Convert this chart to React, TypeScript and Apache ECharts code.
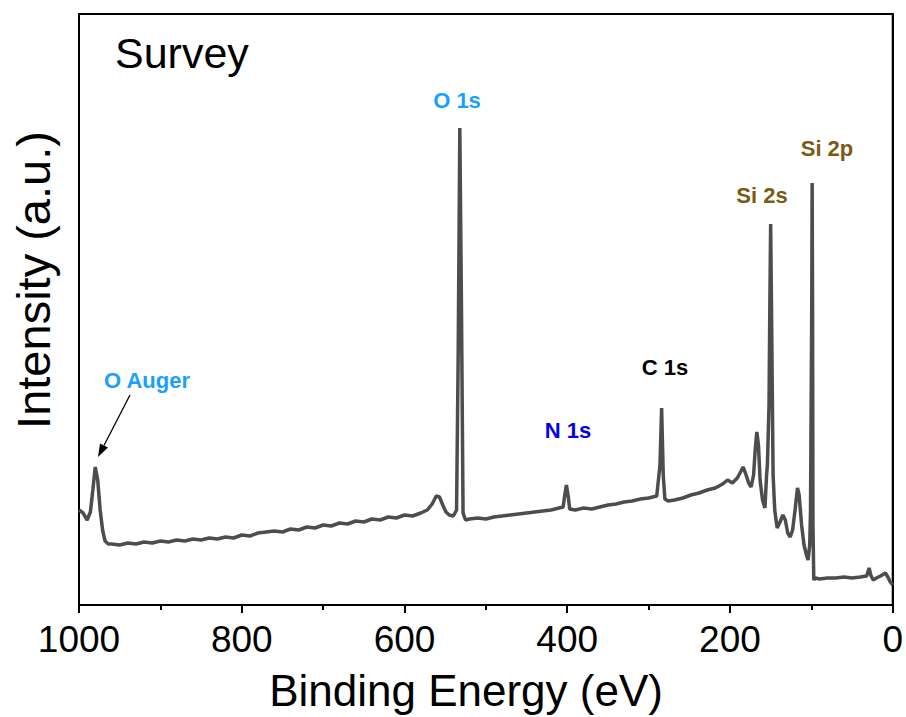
import React, { useEffect, useRef } from "react";
import * as echarts from "echarts";

// Binding energy (eV) and intensity (a.u.)
const energies: number[] = [
  1000, 995, 990, 986, 983, 980, 977, 974, 971, 968, 964, 960, 950, 940, 930, 920, 910, 900,
  890, 880, 870, 860, 850, 840, 830, 820, 810, 800, 790, 780, 770, 760, 750, 740, 730, 720,
  710, 700, 690, 680, 670, 660, 650, 640, 630, 620, 610, 600, 590, 580, 572, 566, 561, 557,
  553, 549, 545, 540, 536, 534, 532, 530, 528, 525, 520, 510, 500, 490, 480, 470, 460, 450,
  440, 430, 420, 410, 405, 403, 401, 399, 397, 390, 380, 370, 360, 350, 340, 330, 320, 310,
  300, 290, 286, 284, 282, 280, 276, 268, 258, 248, 238, 228, 218, 209, 203, 197, 191, 187,
  184, 181, 177, 174, 171, 169, 167, 165, 163, 160, 157, 155, 154, 152, 151, 150, 149, 147,
  145, 142, 139, 135, 132, 129, 126, 123, 120, 117, 115, 112, 109, 106, 104, 102, 101, 99.5,
  99, 98.5, 98, 97, 95, 90, 80, 70, 60, 50, 40, 32, 29, 27, 24, 20, 15, 11, 9, 6, 3, 0,
];
const intensities: number[] = [
  95, 92, 85, 93, 115, 138, 125, 95, 75, 64, 61, 61, 60, 62, 61, 63, 62, 64,
  63, 65, 64, 66, 65, 67, 66, 68, 67, 70, 69, 72, 73, 74, 73, 76, 75, 78,
  77, 80, 79, 82, 81, 84, 83, 86, 85, 88, 87, 90, 89, 92, 95, 101, 109, 108,
  100, 93, 90, 89, 95, 250, 477, 300, 92, 85, 86, 87, 86, 88, 89, 90, 91, 92,
  93, 94, 95, 97, 98, 110, 120, 110, 96, 95, 97, 96, 98, 100, 101, 103, 104, 106,
  107, 109, 140, 197, 130, 106, 104, 105, 107, 110, 112, 115, 117, 121, 125, 122, 127, 133,
  138, 132, 122, 118, 130, 155, 173, 160, 125, 105, 97, 130, 140, 200, 300, 381, 300, 130,
  95, 77, 82, 90, 85, 72, 68, 75, 95, 117, 110, 80, 60, 50, 45, 60, 95, 300,
  422, 300, 80, 25, 27, 26, 27, 27, 28, 27, 28, 29, 37, 30, 25, 27, 29, 31, 32, 28, 23, 20,
];
const xTicks = { min: 0, max: 1000, interval: 200 };
const xTitle = "Binding Energy (eV)";
const yTitle = "Intensity (a.u.)";
const panelTitle = "Survey";

const peakLabels = [
  { text: "O 1s", color: "#1a9fff", x: 457, y: 100 },
  { text: "Si 2p", color: "#7b5a14", x: 827, y: 148 },
  { text: "Si 2s", color: "#7b5a14", x: 762, y: 195 },
  { text: "C 1s", color: "#000000", x: 665, y: 367 },
  { text: "N 1s", color: "#0000ee", x: 568, y: 430 },
  { text: "O Auger", color: "#1a9fff", x: 147, y: 380 },
];

export default function App() {
  const ref = useRef<HTMLDivElement>(null);
  useEffect(() => {
    if (!ref.current) return;
    const chart = echarts.init(ref.current, null, { renderer: "svg" });
    const data = energies.map((e, i) => [e, intensities[i]]);
    const sans = "'Liberation Sans', Arial, Helvetica, sans-serif";
    // arrow geometry
    const tail = [130, 395];
    const tip = [98, 457];
    const dx = tip[0] - tail[0];
    const dy = tip[1] - tail[1];
    const len = Math.sqrt(dx * dx + dy * dy);
    const ux = dx / len;
    const uy = dy / len;
    const hl = 13;
    const hw = 4.5;
    const bx = tip[0] - ux * hl;
    const by = tip[1] - uy * hl;
    chart.setOption({
      animation: false,
      backgroundColor: "#ffffff",
      grid: {
        left: 79,
        right: 11,
        top: 14,
        bottom: 112,
        show: true,
        borderColor: "#000",
        borderWidth: 2,
        backgroundColor: "transparent",
      },
      xAxis: {
        type: "value",
        inverse: true,
        min: xTicks.min,
        max: xTicks.max,
        interval: xTicks.interval,
        axisLine: { show: true, lineStyle: { color: "#000", width: 2 } },
        axisTick: { show: true, inside: false, length: 8, lineStyle: { color: "#000", width: 2 } },
        minorTick: { show: true, splitNumber: 2, length: 5, lineStyle: { color: "#000", width: 2 } },
        axisLabel: {
          fontSize: 37,
          color: "#000",
          fontFamily: sans,
          margin: 16,
          formatter: (v: number) => String(v),
        },
        splitLine: { show: false },
      },
      yAxis: {
        type: "value",
        min: 0,
        max: 591,
        axisLine: { show: true, lineStyle: { color: "#000", width: 2 } },
        axisTick: { show: false },
        axisLabel: { show: false },
        splitLine: { show: false },
      },
      series: [
        {
          type: "line",
          data,
          showSymbol: false,
          symbol: "none",
          lineStyle: { color: "#4d4d4d", width: 3.5 },
          silent: true,
        },
      ],
      graphic: [
        {
          type: "text",
          x: 115,
          y: 53,
          style: { text: panelTitle, fontSize: 43, fill: "#000", fontFamily: sans, verticalAlign: "middle", align: "left" },
        },
        {
          type: "text",
          x: 466,
          y: 690,
          style: { text: xTitle, fontSize: 44, fill: "#000", fontFamily: sans, verticalAlign: "middle", align: "center" },
        },
        {
          type: "text",
          x: 33,
          y: 280,
          rotation: Math.PI / 2,
          style: {
            text: yTitle,
            fontSize: 47,
            fill: "#000",
            fontFamily: sans,
            align: "center",
            verticalAlign: "middle",
          },
        },
        ...peakLabels.map((p) => ({
          type: "text",
          x: p.x,
          y: p.y,
          style: {
            text: p.text,
            fontSize: 22,
            fontWeight: "bold",
            fill: p.color,
            fontFamily: sans,
            align: "center",
            verticalAlign: "middle",
          },
        })),
        {
          type: "line",
          shape: { x1: tail[0], y1: tail[1], x2: bx, y2: by },
          style: { stroke: "#000", lineWidth: 1.3 },
        },
        {
          type: "polygon",
          shape: {
            points: [
              [tip[0], tip[1]],
              [bx - uy * hw, by + ux * hw],
              [bx + uy * hw, by - ux * hw],
            ],
          },
          style: { fill: "#000" },
        },
      ],
    });
    return () => chart.dispose();
  }, []);
  return (
    <div
      ref={ref}
      style={{ position: "fixed", left: 0, top: 0, width: 906, height: 717, background: "#fff" }}
    />
  );
}
